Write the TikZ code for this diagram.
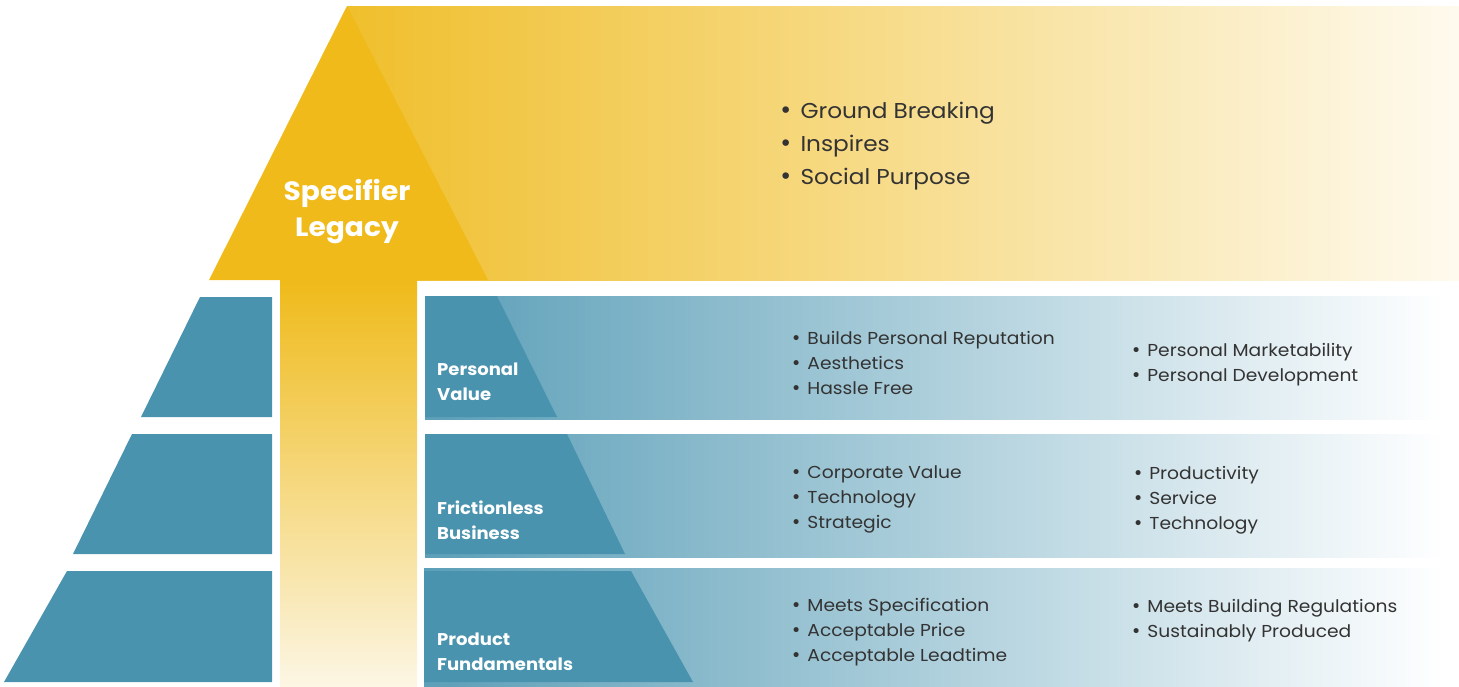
\documentclass[tikz,border=0pt]{standalone}
\usepackage{fontspec}
\setmainfont{Poppins}
\newfontfamily\widefont[FakeStretch=1.08]{Poppins}
\newfontfamily\boldwide[FakeStretch=1.06]{Poppins Bold}
\newfontfamily\bulfont{DejaVu Sans}
\definecolor{gold}{HTML}{EFBA1A}
\definecolor{goldL}{HTML}{F0BF2C}
\definecolor{goldF}{HTML}{FEFAEE}
\definecolor{stemB}{HTML}{FCF6E4}
\definecolor{teal}{HTML}{4A93AE}
\definecolor{tealL}{HTML}{5C9FB8}
\definecolor{ink}{HTML}{333333}
\tikzset{
  lbl/.style={text=white,font=\boldwide\fontsize{17}{25}\selectfont,align=left,anchor=west,inner sep=0pt},
  biglbl/.style={text=white,font=\boldwide\fontsize{26.5}{36}\selectfont,align=center,inner sep=0pt},
  toplist/.style={text=ink,font=\widefont\fontsize{21.5}{33}\selectfont,align=left,anchor=west,inner sep=0pt},
  bandlist/.style={text=ink,font=\widefont\fontsize{17.3}{25}\selectfont,align=left,anchor=west,inner sep=0pt},
  tier/.style={fill=teal},
}
\newcommand{\bul}{{\bulfont\scalebox{1.05}{•}}\hspace{8pt}}
\newcommand{\bulS}{{\bulfont•}\hspace{6pt}}
\begin{document}
\begin{tikzpicture}[x=1pt,y=-1pt]
\useasboundingbox (0,0) rectangle (1459,686);
% top banner
\fill[left color=goldL,right color=goldF] (347,6) rectangle (1459,280);
% stem
\fill[top color=gold,bottom color=stemB] (280,280) rectangle (417,686);
% triangle
\fill[gold] (347,6) -- (488,280) -- (209,280) -- cycle;
\node[biglbl] (legacy) at (347,212) {Specifier\\Legacy};
% left tiers
\fill[tier] (200,297) -- (272,297) -- (272,417) -- (141,417) -- cycle;
\fill[tier] (132,434) -- (272,434) -- (272,554) -- (73,554) -- cycle;
\fill[tier] (67,571) -- (272,571) -- (272,682) -- (4,682) -- cycle;
% bands
\fill[left color=tealL,right color=white] (425,296) rectangle (1445,419);
\fill[tier] (425,296) -- (497,296) -- (557,417) -- (425,417) -- cycle;
\fill[left color=tealL,right color=white] (425,434) rectangle (1445,557);
\fill[tier] (425,434) -- (567,434) -- (625,554) -- (425,554) -- cycle;
\fill[left color=tealL,right color=white] (424,568) rectangle (1445,686);
\fill[tier] (424,571) -- (631,571) -- (693,682) -- (424,682) -- cycle;
% labels
\node[lbl] (pv) at (437,382) {Personal\\Value};
\node[lbl] (fb) at (437,520) {Frictionless\\Business};
\node[lbl] (pf) at (437,652) {Product\\Fundamentals};
% lists
\node[toplist] (top) at (779,146) {\bul Ground Breaking\\\bul Inspires\\\bul Social Purpose};
\node[bandlist] (pv1) at (791,363) {\bulS Builds Personal Reputation\\\bulS Aesthetics\\\bulS Hassle Free};
\node[bandlist] (pv2) at (1131,365) {\bulS Personal Marketability\\\bulS Personal Development};
\node[bandlist] (fb1) at (791,499) {\bulS Corporate Value\\\bulS Technology\\\bulS Strategic};
\node[bandlist] (fb2) at (1133,500) {\bulS Productivity\\\bulS Service\\\bulS Technology};
\node[bandlist] (pf1) at (791,632) {\bulS Meets Specification\\\bulS Acceptable Price\\\bulS Acceptable Leadtime};
\node[bandlist] (pf2) at (1131,621) {\bulS Meets Building Regulations\\\bulS Sustainably Produced};
\end{tikzpicture}
\end{document}
